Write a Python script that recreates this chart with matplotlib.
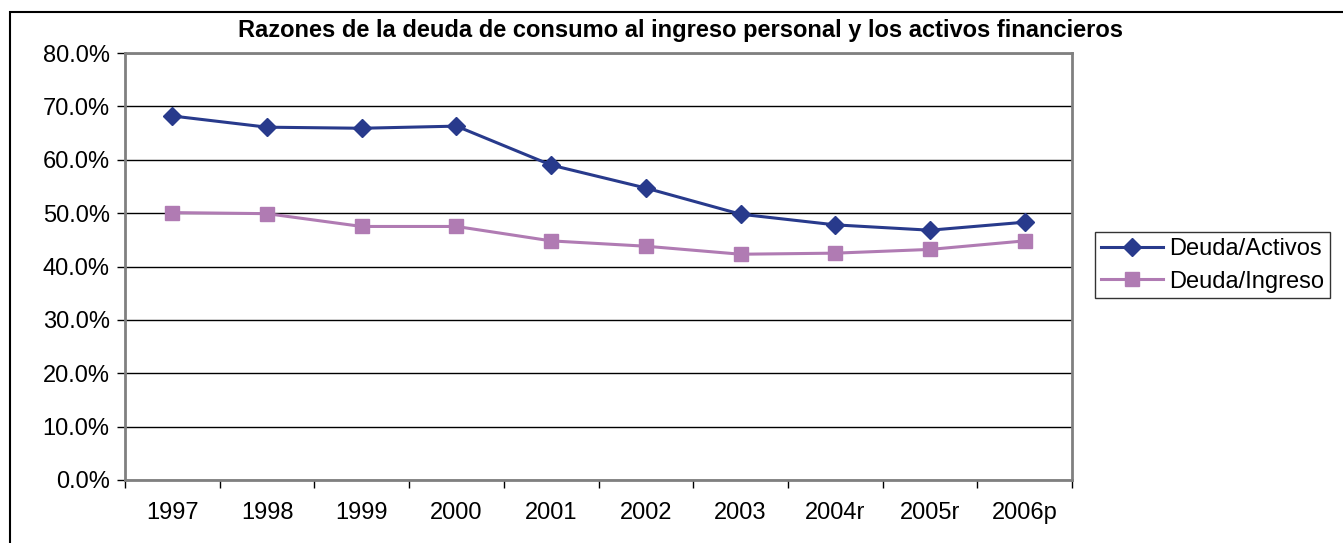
import matplotlib
matplotlib.use("Agg")
import matplotlib.pyplot as plt
from matplotlib.patches import Rectangle
from matplotlib.ticker import FixedLocator, NullFormatter

years = ["1997", "1998", "1999", "2000", "2001", "2002", "2003", "2004r", "2005r", "2006p"]
deuda_activos = [68.2, 66.1, 65.9, 66.3, 59.0, 54.7, 49.8, 47.8, 46.8, 48.3]
deuda_ingreso = [50.1, 49.9, 47.5, 47.5, 44.8, 43.8, 42.3, 42.5, 43.2, 44.8]
yticks = [0, 10, 20, 30, 40, 50, 60, 70, 80]

plt.rcParams['font.family'] = ['Liberation Sans', 'DejaVu Sans']

W, H = 1343, 543
fig = plt.figure(figsize=(W / 100, H / 100), dpi=100)

# outer chart frame
fig.patches.append(Rectangle((10 / W, -0.05), 1.5, 1 - 12 / H + 0.05, transform=fig.transFigure,
                             fill=False, edgecolor='black', linewidth=1.5, zorder=0))

left, right, top, bottom = 125, 1072, 53, 480
ax = fig.add_axes([left / W, 1 - bottom / H, (right - left) / W, (bottom - top) / H])

x = list(range(len(years)))
ax.plot(x, deuda_activos, color='#283A8C', linewidth=2.2, marker='D', markersize=9,
        markeredgecolor='#283A8C', label='Deuda/Activos', zorder=3)
ax.plot(x, deuda_ingreso, color='#B07BB3', linewidth=2.2, marker='s', markersize=10,
        markeredgecolor='#B07BB3', label='Deuda/Ingreso', zorder=3)

ax.set_xlim(-0.5, len(years) - 0.5)
ax.set_ylim(0, 80)
ax.set_yticks(yticks)
ax.set_yticklabels([f"{v:.1f}%" for v in yticks], fontsize=17)
ax.yaxis.grid(True, color='black', linewidth=1)
ax.set_axisbelow(True)

ax.xaxis.set_major_locator(FixedLocator([i - 0.5 for i in range(len(years) + 1)]))
ax.xaxis.set_major_formatter(NullFormatter())
ax.xaxis.set_minor_locator(FixedLocator(x))
ax.set_xticklabels(years, minor=True, fontsize=17)
ax.tick_params(axis='x', which='major', length=6, width=1, color='black', direction='out')
ax.tick_params(axis='x', which='minor', length=0, pad=16)
ax.tick_params(axis='y', length=6, width=1, color='black', direction='out', pad=5)

for s in ax.spines.values():
    s.set_color('#808080')
    s.set_linewidth(2)

fig.text(680 / W, 1 - 30 / H, "Razones de la deuda de consumo al ingreso personal y los activos financieros",
         ha='center', va='center', fontsize=17, fontweight='bold')

leg = fig.legend(loc='upper left', bbox_to_anchor=(1095 / W, 1 - 232 / H), fontsize=17,
                 frameon=True, fancybox=False, edgecolor='black', borderaxespad=0,
                 handlelength=2.65, handletextpad=0.22, borderpad=0.25, labelspacing=0.45)
leg.get_frame().set_linewidth(1)

fig.savefig("out.png", dpi=100)
